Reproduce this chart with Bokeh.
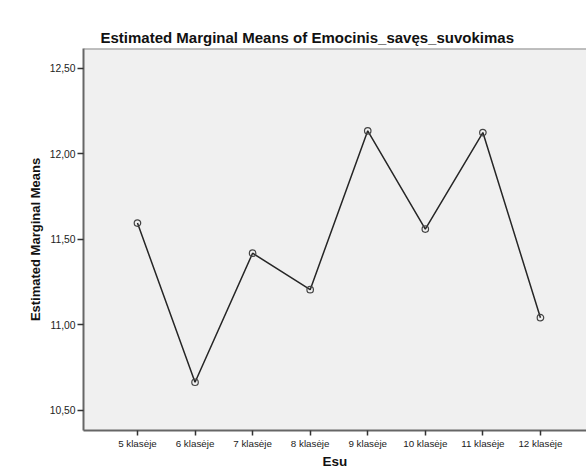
from bokeh.plotting import figure
from bokeh.models import Range1d, FixedTicker, Span, Title
from bokeh.embed import file_html
from bokeh.resources import INLINE

# ---- data ----
categories = ["5 klasėje", "6 klasėje", "7 klasėje", "8 klasėje",
              "9 klasėje", "10 klasėje", "11 klasėje", "12 klasėje"]
means = [11.595, 10.665, 11.419, 11.206, 12.134, 11.560, 12.124, 11.042]
y_ticks = [10.5, 11.0, 11.5, 12.0, 12.5]
y_tick_labels = ["10,50", "11,00", "11,50", "12,00", "12,50"]
title_text = "Estimated Marginal Means of Emocinis_savęs_suvokimas"
x_label = "Esu"
y_label = "Estimated Marginal Means"

FONT = "Liberation Sans"
xs = list(range(len(categories)))
y_start, y_end = 10.383, 12.615

p = figure(width=586, height=471, output_backend="svg", toolbar_location=None,
           x_range=Range1d(-0.9375, 7.8), y_range=Range1d(y_start, y_end),
           min_border_left=83, min_border_right=0, min_border_top=48,
           min_border_bottom=41)

p.border_fill_color = "white"
p.background_fill_color = "#f0f0f0"
p.outline_line_color = None
p.xgrid.visible = False
p.ygrid.visible = False

t = Title(text=title_text, align="left", offset=17, standoff=5,
          text_font=FONT, text_font_size="15px", text_font_style="bold",
          text_color="#111111")
p.add_layout(t, "above")

p.add_layout(Span(location=y_end, dimension="width", line_color="#888888",
                  line_width=2))

# axes
p.xaxis.ticker = FixedTicker(ticks=xs)
p.xaxis.major_label_overrides = {i: c for i, c in zip(xs, categories)}
p.yaxis.ticker = FixedTicker(ticks=y_ticks)
p.yaxis.major_label_overrides = {v: l for v, l in zip(y_ticks, y_tick_labels)}

for ax in (p.xaxis[0], p.yaxis[0]):
    ax.axis_line_color = "#666666"
    ax.axis_line_width = 2
    ax.major_tick_line_color = "#333333"
    ax.major_tick_line_width = 1.5
    ax.major_tick_in = 0
    ax.minor_tick_line_color = None
    ax.major_label_text_font = FONT
    ax.major_label_text_color = "#222222"
    ax.axis_label_text_font = FONT
    ax.axis_label_text_font_style = "bold"
    ax.axis_label_text_color = "#111111"

p.xaxis.major_tick_out = 5
p.xaxis.major_label_standoff = 2
p.xaxis.major_label_text_font_size = "9.8px"
p.xaxis.axis_label = x_label
p.xaxis.axis_label_text_font_size = "13.5px"
p.xaxis.axis_label_standoff = 2
p.xaxis.axis_label_text_baseline = "middle"

p.yaxis.major_tick_out = 6
p.yaxis.major_label_standoff = 2
p.yaxis.major_label_text_font_size = "10.3px"
p.yaxis.axis_label = y_label
p.yaxis.axis_label_text_font_size = "13px"
p.yaxis.axis_label_standoff = 4

p.line(xs, means, line_color="#262626", line_width=1.5)
p.scatter(xs, means, marker="circle", size=6.5, fill_alpha=0,
          line_color="#444444", line_width=1.2)

open("out.html", "w").write(file_html(p, INLINE))
